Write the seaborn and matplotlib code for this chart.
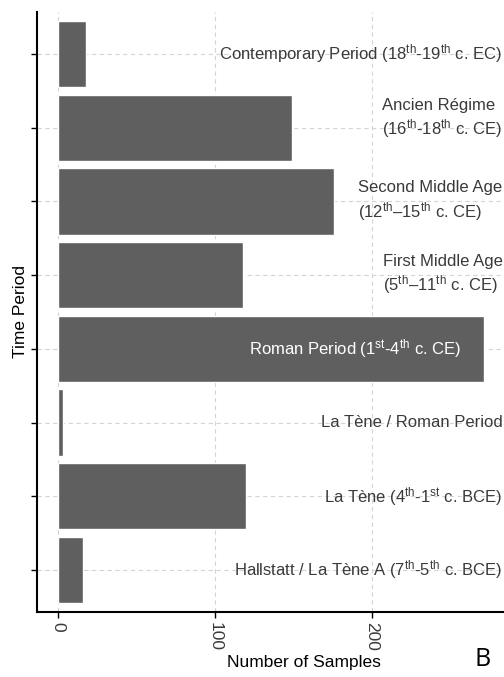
import matplotlib
matplotlib.use("Agg")
import matplotlib.pyplot as plt
import seaborn as sns
import pandas as pd

# -------------------------------
# Data
# -------------------------------
periods = [
    "Contemporary",
    "Ancien Regime",
    "Second Middle Age",
    "First Middle Age",
    "Roman",
    "La Tene / Roman",
    "La Tene",
    "Hallstatt / La Tene A",
]
samples = [18, 149, 176, 118, 271, 3, 120, 16]
labels = [
    r"Contemporary Period (18$^{\rm th}$-19$^{\rm th}$ c. EC)",
    "Ancien Régime\n" + r"(16$^{\rm th}$-18$^{\rm th}$ c. CE)",
    "Second Middle Age\n" + r"(12$^{\rm th}$–15$^{\rm th}$ c. CE)",
    "First Middle Age\n" + r"(5$^{\rm th}$–11$^{\rm th}$ c. CE)",
    r"Roman Period (1$^{\rm st}$-4$^{\rm th}$ c. CE)",
    "La Tène / Roman Period",
    r"La Tène (4$^{\rm th}$-1$^{\rm st}$ c. BCE)",
    r"Hallstatt / La Tène A (7$^{\rm th}$-5$^{\rm th}$ c. BCE)",
]
x_ticks = [0, 100, 200]

df = pd.DataFrame({"period": periods, "samples": samples})

# -------------------------------
# Style
# -------------------------------
sns.set_style("white")
plt.rcParams["font.family"] = ["Liberation Sans", "DejaVu Sans"]
plt.rcParams["mathtext.fontset"] = "custom"
plt.rcParams["mathtext.rm"] = "Liberation Sans"
plt.rcParams["mathtext.it"] = "Liberation Sans:italic"
plt.rcParams["mathtext.bf"] = "Liberation Sans:bold"

bar_color = "#5f5f5f"
text_color = "#3a3a3a"

fig = plt.figure(figsize=(5.04, 6.77), dpi=100)
ax = fig.add_axes([37 / 504, 65 / 677, 1 - 37 / 504, 600 / 677])

sns.barplot(data=df, x="samples", y="period", orient="h", color=bar_color,
            saturation=1, width=0.9, ax=ax, zorder=2)

ax.set_xlim(-13.4, 284)
ax.set_ylim(len(periods) - 0.43, -0.57)

# gridlines
ax.set_axisbelow(True)
ax.grid(True, color="#d4d4d4", linestyle=(0, (4, 3)), linewidth=0.8)

# ticks
ax.set_xticks(x_ticks)
ax.set_xticklabels([str(t) for t in x_ticks], rotation=-90, fontsize=12.5,
                   color=text_color)
ax.set_yticks(range(len(periods)))
ax.set_yticklabels([])
ax.tick_params(axis="both", direction="out", length=4, width=1, color="black",
               left=True, bottom=True)

for side in ["top", "right"]:
    ax.spines[side].set_visible(False)
for side in ["left", "bottom"]:
    ax.spines[side].set_color("black")
    ax.spines[side].set_linewidth(1.5)

ax.set_xlabel("Number of Samples", fontsize=12.5, color="black")
ax.xaxis.set_label_coords((304 - 37) / 467, -0.072)
ax.set_ylabel("Time Period", fontsize=12.5, color="black")
ax.yaxis.set_label_coords(-0.019, 0.5)

# period labels
for i, lab in enumerate(labels):
    if periods[i] == "Roman":
        ax.text(257, i, lab, ha="right", va="center", color="white",
                fontsize=12, zorder=3)
    else:
        yy = i - 0.12 if periods[i] == "Ancien Regime" else i
        ax.text(283, yy, lab, ha="right", va="center", color=text_color,
                fontsize=12, multialignment="left", linespacing=1.25, zorder=3)

fig.text(483 / 504, 17 / 677, "B", fontsize=18, family="Open Sans",
         color="black", ha="center", va="center")

fig.savefig("out.png", dpi=100)
